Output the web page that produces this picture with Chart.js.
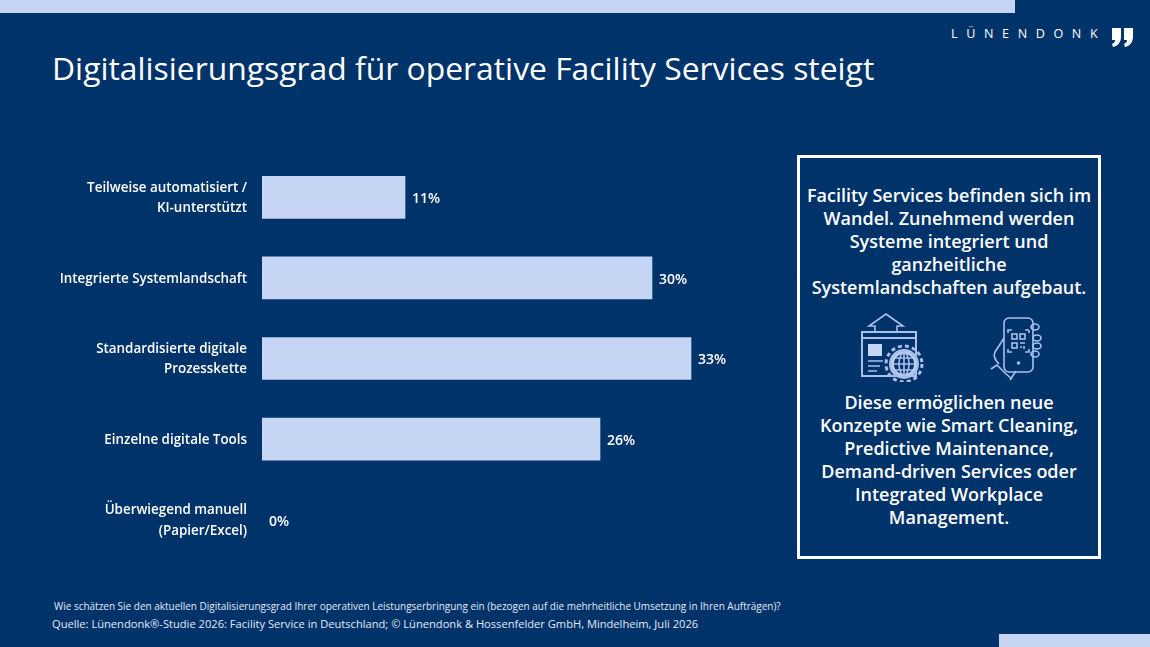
<!DOCTYPE html>
<html lang="de">
<head>
<meta charset="utf-8">
<title>Digitalisierungsgrad</title>
<script src="https://cdn.jsdelivr.net/npm/chart.js@4"></script>
<style>
  html, body { margin: 0; padding: 0; }
  body { width: 1150px; height: 647px; background: #00336a; overflow: hidden; position: relative; font-family: "Open Sans", sans-serif; color: #fff; }
  .abs { position: absolute; white-space: nowrap; }
  #topbar { left: 0; top: 0; width: 1015px; height: 13px; background: #c5d5f3; }
  #bottombar { left: 999px; top: 634px; width: 151px; height: 13px; background: #c5d5f3; }
  #logo { left: 951px; top: 25px; font-size: 12.6px; letter-spacing: 8.6px; line-height: 17px; }
  #title { left: 52px; top: 46px; font-size: 31.85px; line-height: 44px; }
  #chartbox { left: 0; top: 157px; width: 782px; height: 403px; }
  #note { left: 54px; top: 599px; font-size: 9.97px; line-height: 14px; color: #e4ebf8; }
  #source { left: 52px; top: 616px; font-size: 11.13px; line-height: 16px; color: #e4ebf8; }
  #box { left: 797px; top: 155px; width: 298px; height: 398px; border: 3px solid #fff; }
  .txt { left: 797px; width: 304px; text-align: center; font-size: 18px; font-weight: 600; line-height: 23.1px; }
</style>
</head>
<body>
<div class="abs" id="topbar"></div>
<div class="abs" id="bottombar"></div>
<div class="abs" id="logo">LÜNENDONK</div>
<svg class="abs" style="left:1111px;top:27px" width="24" height="21" viewBox="0 0 24 21" fill="#fff">
  <path d="M1 1h9v9c0 5-3 9-8 10l-1-3c2-1 3-2 3-4H1z"/>
  <path d="M13 1h9v9c0 5-3 9-8 10l-1-3c2-1 3-2 3-4h-3z"/>
</svg>
<div class="abs" id="title">Digitalisierungsgrad für operative Facility Services steigt</div>

<div class="abs" id="chartbox"><canvas id="myChart"></canvas></div>

<div class="abs" id="box"></div>
<div class="abs txt" style="top:184px">Facility Services befinden sich im<br>Wandel. Zunehmend werden<br>Systeme integriert und<br>ganzheitliche<br>Systemlandschaften aufgebaut.</div>

<!-- Icons -->
<svg class="abs" style="left:858px;top:312px" width="70" height="70" viewBox="0 0 70 70" fill="none" stroke="#a9c0ea" stroke-width="1.6">
  <path d="M17 20v-6h-6L28 2l17 12h-6v6"/>
  <rect x="4" y="20" width="54" height="44" fill="#00336a" stroke-width="2"/>
  <path d="M4 26h54" stroke-width="2"/>
  <rect x="10" y="32" width="14" height="12" fill="#c5d5f3" stroke="none"/>
  <path d="M10 49h15M10 54h12M10 59h9"/>
  <circle cx="46" cy="52" r="15" fill="#a9c0ea" stroke="none"/>
  <circle cx="46" cy="52" r="18" stroke-width="3" stroke-dasharray="4 3.1"/>
  <circle cx="46" cy="52" r="11" fill="#00336a" stroke="#c5d5f3"/>
  <ellipse cx="46" cy="52" rx="5" ry="11"/>
  <path d="M35 52h22M37 46h18M37 58h18M46 41v22"/>
</svg>
<svg class="abs" style="left:990px;top:316px" width="52" height="68" viewBox="0 0 52 68" fill="none" stroke="#a9c0ea" stroke-width="1.6">
  <rect x="14" y="2" width="29" height="54" rx="5"/>
  <path d="M14 22L5 36c-2 4 0 8 4 12M1 53l6-4 9 9 6 5M26 55l-6 9"/>
  <ellipse cx="45" cy="11" rx="4" ry="3"/>
  <ellipse cx="47" cy="22" rx="4" ry="3"/>
  <ellipse cx="47" cy="30" rx="4" ry="3"/>
  <ellipse cx="45" cy="38" rx="4" ry="3"/>
  <path d="M18 17v-3h4M39 14h-4v0M39 14v3M18 33v3h4M39 33v3h-4"/>
  <rect x="22" y="18" width="5" height="5"/>
  <rect x="30" y="18" width="5" height="5"/>
  <rect x="22" y="27" width="5" height="5"/>
  <path d="M30 27h5M30 31h2M34 30v3"/>
  <circle cx="28.500" cy="47" r="1" fill="#a9c0ea"/>
</svg>

<div class="abs txt" style="top:391px">Diese ermöglichen neue<br>Konzepte wie Smart Cleaning,<br>Predictive Maintenance,<br>Demand-driven Services oder<br>Integrated Workplace<br>Management.</div>

<div class="abs" id="note">Wie schätzen Sie den aktuellen Digitalisierungsgrad Ihrer operativen Leistungserbringung ein (bezogen auf die mehrheitliche Umsetzung in Ihren Aufträgen)?</div>
<div class="abs" id="source">Quelle: Lünendonk®-Studie 2026: Facility Service in Deutschland; © Lünendonk &amp; Hossenfelder GmbH, Mindelheim, Juli 2026</div>

<script>
var categories = [
  ["Teilweise automatisiert /", "KI-unterstützt"],
  "Integrierte Systemlandschaft",
  ["Standardisierte digitale", "Prozesskette"],
  "Einzelne digitale Tools",
  ["Überwiegend manuell", "(Papier/Excel)"]
];
var shares = [11, 30, 33, 26, 0];

// prints the percent next to each bar
var barLabels = {
  id: "barLabels",
  afterDatasetsDraw: function (chart) {
    var ctx = chart.ctx;
    var bars = chart.getDatasetMeta(0).data;
    ctx.save();
    ctx.fillStyle = "#fff";
    ctx.font = "600 14px 'Open Sans'";
    ctx.textBaseline = "middle";
    bars.forEach(function (bar, i) {
      ctx.fillText(shares[i] + "%", bar.x + 7, bar.y + 2);
    });
    ctx.restore();
  }
};

Chart.defaults.animation = false;

new Chart("myChart", {
  type: "bar",
  data: {
    labels: categories,
    datasets: [
      {
        data: shares,
        // zero bar leaves no hairline
        backgroundColor: function (c) { return c.raw > 0 ? "#c5d5f3" : "transparent"; },
        barThickness: 42
      }
    ]
  },
  options: {
    indexAxis: "y",
    responsive: true,
    maintainAspectRatio: false,
    layout: { padding: 0 },
    plugins: { legend: { display: false }, tooltip: { enabled: false } },
    scales: {
      x: { display: false, min: 0, max: 40 },
      y: {
        afterFit: function (axis) {
          axis.width = 262;
          axis.paddingTop = 0;
          axis.paddingBottom = 0;
        },
        grid: { display: false, drawTicks: false },
        border: { display: false },
        ticks: {
          color: "#fff",
          padding: 15,
          labelOffset: 1,
          font: { family: "'Open Sans'", size: 13.4, weight: "600", lineHeight: 1.5 }
        }
      }
    }
  },
  plugins: [barLabels]
});
</script>
</body>
</html>
